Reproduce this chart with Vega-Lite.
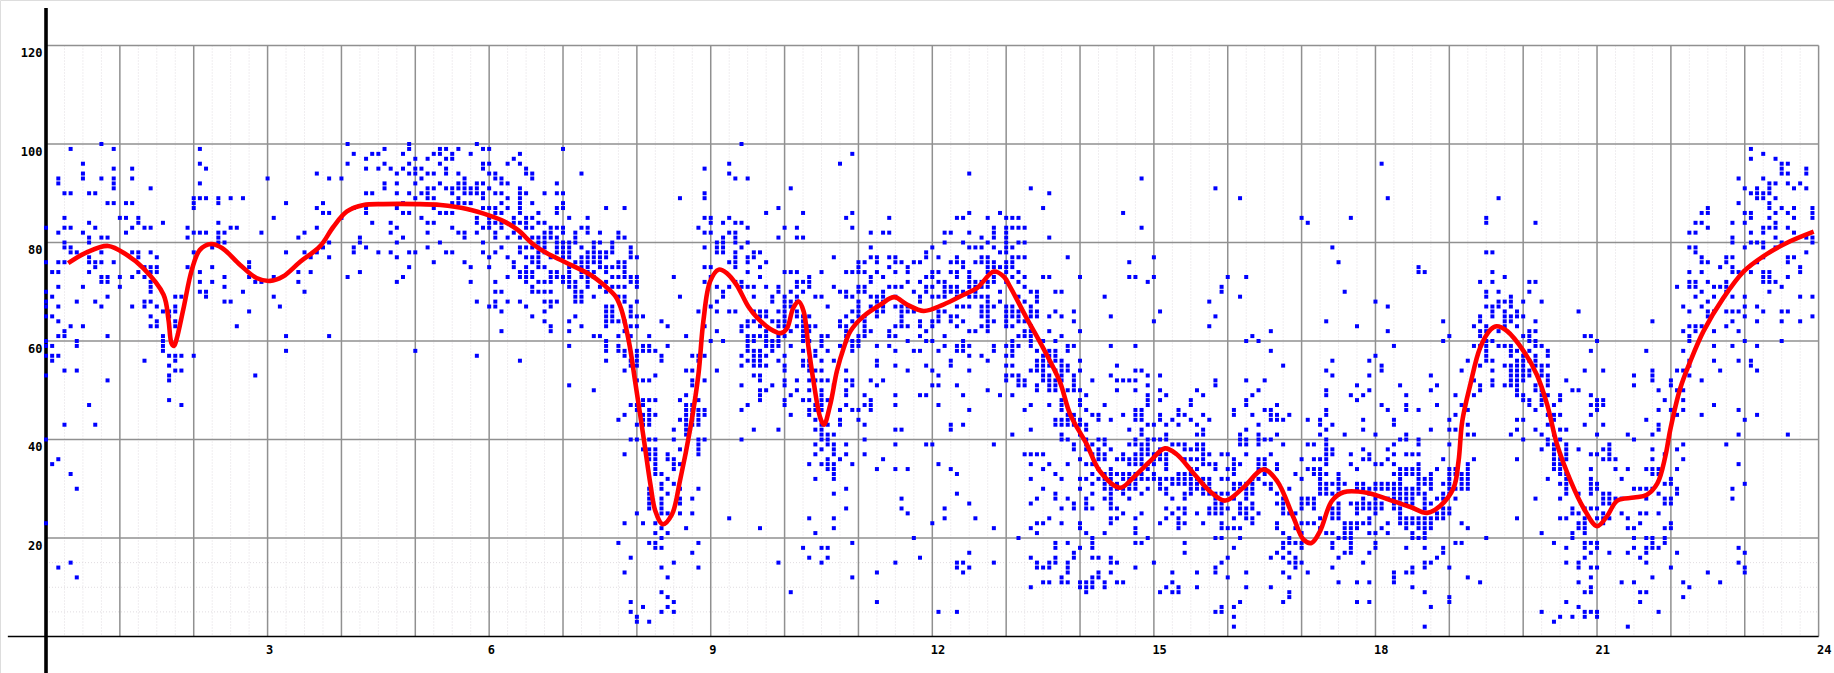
{"$schema":"https://vega.github.io/schema/vega-lite/v6.json","width":1834,"height":673,"padding":0,"autosize":{"type":"none"},"background":"white","datasets":{"one":[{"k":1}],"minorV":[{"t":3},{"t":6},{"t":9},{"t":15},{"t":18},{"t":21},{"t":27},{"t":30},{"t":33},{"t":39},{"t":42},{"t":45},{"t":51},{"t":54},{"t":57},{"t":63},{"t":66},{"t":69},{"t":75},{"t":78},{"t":81},{"t":87},{"t":90},{"t":93},{"t":99},{"t":102},{"t":105},{"t":111},{"t":114},{"t":117},{"t":123},{"t":126},{"t":129},{"t":135},{"t":138},{"t":141},{"t":147},{"t":150},{"t":153},{"t":159},{"t":162},{"t":165},{"t":171},{"t":174},{"t":177},{"t":183},{"t":186},{"t":189},{"t":195},{"t":198},{"t":201},{"t":207},{"t":210},{"t":213},{"t":219},{"t":222},{"t":225},{"t":231},{"t":234},{"t":237},{"t":243},{"t":246},{"t":249},{"t":255},{"t":258},{"t":261},{"t":267},{"t":270},{"t":273},{"t":279},{"t":282},{"t":285}],"majorV":[{"t":12},{"t":24},{"t":36},{"t":48},{"t":60},{"t":72},{"t":84},{"t":96},{"t":108},{"t":120},{"t":132},{"t":144},{"t":156},{"t":168},{"t":180},{"t":192},{"t":204},{"t":216},{"t":228},{"t":240},{"t":252},{"t":264},{"t":276},{"t":288}],"minorH":[{"v":5},{"v":10},{"v":15}],"majorH":[{"v":20},{"v":40},{"v":60},{"v":80},{"v":100},{"v":120}],"curve":[{"t":3.6,"v":75.8},{"t":6.6,"v":78},{"t":10.1,"v":79.3},{"t":13.1,"v":77.5},{"t":15.8,"v":74.8},{"t":19.1,"v":69.4},{"t":19.9,"v":64.3},{"t":20.4,"v":59.5},{"t":20.8,"v":59},{"t":21.2,"v":60.3},{"t":22.3,"v":66.4},{"t":23.7,"v":74.5},{"t":25,"v":78.5},{"t":26.8,"v":79.7},{"t":28.6,"v":78.9},{"t":31.5,"v":75.5},{"t":34.2,"v":72.8},{"t":36.4,"v":72.2},{"t":38.5,"v":73.1},{"t":41.3,"v":76.1},{"t":44.5,"v":79.2},{"t":46.7,"v":83.2},{"t":48.9,"v":86.3},{"t":51.6,"v":87.6},{"t":54.8,"v":87.8},{"t":60.2,"v":87.8},{"t":64.1,"v":87.6},{"t":68.4,"v":86.8},{"t":72.2,"v":85.4},{"t":74.4,"v":84.3},{"t":76.6,"v":82.6},{"t":79.3,"v":79.5},{"t":81.4,"v":77.8},{"t":84.2,"v":76.1},{"t":88.5,"v":73.4},{"t":90.7,"v":71.3},{"t":92.5,"v":69.1},{"t":93.4,"v":66.7},{"t":94.7,"v":59.9},{"t":95.8,"v":51.1},{"t":97.1,"v":40.3},{"t":98.2,"v":30.9},{"t":99,"v":25.5},{"t":100.2,"v":22.8},{"t":101.7,"v":24.8},{"t":103,"v":31.6},{"t":104.7,"v":42.4},{"t":106,"v":53.2},{"t":106.8,"v":64},{"t":107.9,"v":72.1},{"t":109.3,"v":74.5},{"t":110.6,"v":73.8},{"t":112.2,"v":71.4},{"t":114.1,"v":67},{"t":115.5,"v":64.8},{"t":117.6,"v":62.5},{"t":119.4,"v":61.6},{"t":120.4,"v":62.6},{"t":121.4,"v":66.7},{"t":122.3,"v":68},{"t":123.1,"v":66},{"t":123.9,"v":58.6},{"t":124.7,"v":51.8},{"t":125.8,"v":44.4},{"t":126.4,"v":43},{"t":127.4,"v":47},{"t":128.5,"v":53.9},{"t":129.6,"v":58.6},{"t":130.7,"v":62},{"t":132.8,"v":65},{"t":135.6,"v":67.4},{"t":137.8,"v":68.9},{"t":139.9,"v":67.4},{"t":142.6,"v":66.1},{"t":145.8,"v":67.4},{"t":149.1,"v":69.4},{"t":151.3,"v":70.8},{"t":154,"v":74.1},{"t":155.6,"v":73.1},{"t":156.6,"v":71.1},{"t":159.3,"v":64.7},{"t":162,"v":58.6},{"t":164.7,"v":51.8},{"t":166.4,"v":45.1},{"t":169.1,"v":39},{"t":171.2,"v":33.6},{"t":174.5,"v":30.2},{"t":176.6,"v":32.2},{"t":179.4,"v":35.6},{"t":181.8,"v":38.2},{"t":183.7,"v":37},{"t":186.4,"v":33.2},{"t":189.1,"v":29.5},{"t":191.6,"v":27.6},{"t":194.5,"v":30.2},{"t":197.8,"v":33.9},{"t":200,"v":31.6},{"t":202.7,"v":24.1},{"t":204.3,"v":19.7},{"t":205.6,"v":19},{"t":207,"v":21.4},{"t":208.9,"v":27.5},{"t":210.8,"v":29.3},{"t":214.6,"v":29.2},{"t":218.4,"v":27.7},{"t":221.7,"v":26.3},{"t":224.4,"v":25.1},{"t":226.5,"v":26.5},{"t":228.7,"v":30.2},{"t":229.5,"v":35.6},{"t":230.1,"v":43.7},{"t":231.4,"v":51.1},{"t":233,"v":58.6},{"t":234.7,"v":62.3},{"t":235.7,"v":63},{"t":237.4,"v":62},{"t":240.1,"v":57.9},{"t":242.2,"v":53.2},{"t":243.9,"v":47.1},{"t":245.5,"v":39},{"t":247.7,"v":31.6},{"t":249.8,"v":26.1},{"t":252,"v":22.4},{"t":253.6,"v":24.4},{"t":255.3,"v":27.6},{"t":258,"v":28.2},{"t":260.1,"v":28.8},{"t":261.8,"v":31.1},{"t":263.1,"v":36.6},{"t":263.9,"v":42},{"t":265.5,"v":50.3},{"t":267.2,"v":56},{"t":269.3,"v":62},{"t":272.5,"v":68.7},{"t":275.8,"v":74.1},{"t":279,"v":77.2},{"t":282.8,"v":79.9},{"t":287.2,"v":82.2}],"points":[
{"t":0,"v":83},{"t":0,"v":76},{"t":0,"v":70},{"t":0,"v":68},{"t":0,"v":67},{"t":0,"v":65},{"t":0,"v":60},{"t":0,"v":59},{"t":0,"v":57},{"t":0,"v":53},{"t":0,"v":40},{"t":0,"v":23},
{"t":1,"v":74},{"t":1,"v":69},{"t":1,"v":65},{"t":1,"v":59},{"t":1,"v":57},{"t":1,"v":56},{"t":1,"v":35},
{"t":2,"v":93},{"t":2,"v":92},{"t":2,"v":82},{"t":2,"v":76},{"t":2,"v":74},{"t":2,"v":71},{"t":2,"v":67},{"t":2,"v":64},{"t":2,"v":61},{"t":2,"v":57},{"t":2,"v":36},{"t":2,"v":14},
{"t":3,"v":90},{"t":3,"v":85},{"t":3,"v":83},{"t":3,"v":80},{"t":3,"v":79},{"t":3,"v":76},{"t":3,"v":62},{"t":3,"v":61},{"t":3,"v":54},{"t":3,"v":43},
{"t":4,"v":99},{"t":4,"v":90},{"t":4,"v":83},{"t":4,"v":79},{"t":4,"v":78},{"t":4,"v":63},{"t":4,"v":33},{"t":4,"v":15},
{"t":5,"v":78},{"t":5,"v":68},{"t":5,"v":60},{"t":5,"v":59},{"t":5,"v":54},{"t":5,"v":30},{"t":5,"v":12},
{"t":6,"v":96},{"t":6,"v":94},{"t":6,"v":93},{"t":6,"v":82},{"t":6,"v":71},{"t":6,"v":63},
{"t":7,"v":90},{"t":7,"v":84},{"t":7,"v":81},{"t":7,"v":80},{"t":7,"v":77},{"t":7,"v":76},{"t":7,"v":74},{"t":7,"v":47},
{"t":8,"v":90},{"t":8,"v":83},{"t":8,"v":76},{"t":8,"v":75},{"t":8,"v":68},{"t":8,"v":43},
{"t":9,"v":100},{"t":9,"v":93},{"t":9,"v":81},{"t":9,"v":78},{"t":9,"v":76},{"t":9,"v":73},{"t":9,"v":72},{"t":9,"v":67},
{"t":10,"v":88},{"t":10,"v":81},{"t":10,"v":73},{"t":10,"v":72},{"t":10,"v":69},{"t":10,"v":61},{"t":10,"v":52},
{"t":11,"v":99},{"t":11,"v":95},{"t":11,"v":93},{"t":11,"v":92},{"t":11,"v":91},{"t":11,"v":88},{"t":11,"v":76},
{"t":12,"v":85},{"t":12,"v":73},{"t":12,"v":71},
{"t":13,"v":88},{"t":13,"v":85},{"t":13,"v":82},
{"t":14,"v":95},{"t":14,"v":93},{"t":14,"v":88},{"t":14,"v":83},{"t":14,"v":78},{"t":14,"v":73},{"t":14,"v":67},
{"t":15,"v":85},{"t":15,"v":84},{"t":15,"v":78},{"t":15,"v":77},{"t":15,"v":74},
{"t":16,"v":83},{"t":16,"v":75},{"t":16,"v":73},{"t":16,"v":68},{"t":16,"v":67},{"t":16,"v":56},
{"t":17,"v":91},{"t":17,"v":83},{"t":17,"v":78},{"t":17,"v":75},{"t":17,"v":74},{"t":17,"v":72},{"t":17,"v":71},{"t":17,"v":70},{"t":17,"v":68},{"t":17,"v":65},{"t":17,"v":63},
{"t":18,"v":77},{"t":18,"v":75},{"t":18,"v":74},{"t":18,"v":67},{"t":18,"v":64},{"t":18,"v":63},
{"t":19,"v":84},{"t":19,"v":66},{"t":19,"v":61},{"t":19,"v":60},{"t":19,"v":59},{"t":19,"v":58},
{"t":20,"v":66},{"t":20,"v":65},{"t":20,"v":57},{"t":20,"v":55},{"t":20,"v":53},{"t":20,"v":52},{"t":20,"v":48},
{"t":21,"v":69},{"t":21,"v":67},{"t":21,"v":66},{"t":21,"v":64},{"t":21,"v":63},{"t":21,"v":57},{"t":21,"v":56},{"t":21,"v":54},
{"t":22,"v":69},{"t":22,"v":57},{"t":22,"v":54},{"t":22,"v":47},
{"t":23,"v":83},{"t":23,"v":81},{"t":23,"v":75},
{"t":24,"v":89},{"t":24,"v":88},{"t":24,"v":87},{"t":24,"v":82},{"t":24,"v":78},{"t":24,"v":57},
{"t":25,"v":99},{"t":25,"v":96},{"t":25,"v":92},{"t":25,"v":89},{"t":25,"v":82},{"t":25,"v":74},{"t":25,"v":72},{"t":25,"v":70},
{"t":26,"v":95},{"t":26,"v":89},{"t":26,"v":82},{"t":26,"v":70},{"t":26,"v":69},
{"t":27,"v":79},{"t":27,"v":75},{"t":27,"v":72},
{"t":28,"v":89},{"t":28,"v":88},{"t":28,"v":84},{"t":28,"v":82},{"t":28,"v":81},{"t":28,"v":80},
{"t":29,"v":82},{"t":29,"v":80},{"t":29,"v":73},{"t":29,"v":71},{"t":29,"v":68},
{"t":30,"v":89},{"t":30,"v":83},{"t":30,"v":68},{"t":31,"v":83},{"t":31,"v":63},{"t":32,"v":89},{"t":32,"v":70},
{"t":33,"v":76},{"t":33,"v":75},{"t":33,"v":73},{"t":33,"v":66},{"t":34,"v":72},{"t":34,"v":53},{"t":35,"v":82},{"t":35,"v":72},{"t":36,"v":93},
{"t":37,"v":85},{"t":37,"v":73},{"t":37,"v":69},{"t":38,"v":67},{"t":39,"v":88},{"t":39,"v":78},{"t":39,"v":61},{"t":39,"v":58},
{"t":41,"v":81},{"t":41,"v":74},{"t":41,"v":72},{"t":42,"v":82},{"t":42,"v":78},{"t":42,"v":70},{"t":43,"v":77},{"t":43,"v":74},
{"t":44,"v":94},{"t":44,"v":87},{"t":44,"v":83},{"t":44,"v":78},{"t":45,"v":88},{"t":45,"v":86},{"t":45,"v":79},
{"t":46,"v":93},{"t":46,"v":86},{"t":46,"v":80},{"t":46,"v":77},{"t":46,"v":61},{"t":48,"v":93},{"t":48,"v":85},
{"t":49,"v":100},{"t":49,"v":96},{"t":49,"v":73},{"t":50,"v":98},{"t":50,"v":87},{"t":50,"v":79},{"t":50,"v":78},
{"t":51,"v":81},{"t":51,"v":80},{"t":51,"v":74},{"t":52,"v":97},{"t":52,"v":95},{"t":52,"v":90},{"t":52,"v":87},{"t":52,"v":86},{"t":52,"v":79},
{"t":53,"v":98},{"t":53,"v":90},{"t":53,"v":84},{"t":54,"v":98},{"t":54,"v":95},{"t":54,"v":78},
{"t":55,"v":99},{"t":55,"v":96},{"t":55,"v":92},{"t":55,"v":91},{"t":56,"v":95},{"t":56,"v":84},{"t":56,"v":82},{"t":56,"v":78},
{"t":57,"v":94},{"t":57,"v":92},{"t":57,"v":90},{"t":57,"v":87},{"t":57,"v":83},{"t":57,"v":80},{"t":57,"v":77},{"t":57,"v":72},
{"t":58,"v":98},{"t":58,"v":95},{"t":58,"v":88},{"t":58,"v":86},{"t":58,"v":81},{"t":58,"v":73},
{"t":59,"v":100},{"t":59,"v":99},{"t":59,"v":96},{"t":59,"v":94},{"t":59,"v":90},{"t":59,"v":86},{"t":59,"v":78},{"t":59,"v":75},
{"t":60,"v":97},{"t":60,"v":95},{"t":60,"v":94},{"t":60,"v":92},{"t":60,"v":89},{"t":60,"v":78},{"t":60,"v":58},
{"t":61,"v":95},{"t":61,"v":93},{"t":61,"v":90},{"t":61,"v":85},
{"t":62,"v":97},{"t":62,"v":94},{"t":62,"v":91},{"t":62,"v":90},{"t":62,"v":89},{"t":62,"v":84},{"t":62,"v":82},{"t":62,"v":79},
{"t":63,"v":98},{"t":63,"v":94},{"t":63,"v":91},{"t":63,"v":89},{"t":63,"v":87},{"t":63,"v":84},{"t":63,"v":76},
{"t":64,"v":99},{"t":64,"v":98},{"t":64,"v":96},{"t":64,"v":92},{"t":64,"v":86},{"t":64,"v":80},
{"t":65,"v":99},{"t":65,"v":97},{"t":65,"v":95},{"t":65,"v":94},{"t":65,"v":91},{"t":65,"v":86},{"t":65,"v":78},
{"t":66,"v":98},{"t":66,"v":97},{"t":66,"v":91},{"t":66,"v":90},{"t":66,"v":88},{"t":66,"v":86},{"t":66,"v":83},{"t":66,"v":78},
{"t":67,"v":99},{"t":67,"v":94},{"t":67,"v":92},{"t":67,"v":91},{"t":67,"v":89},{"t":67,"v":88},{"t":67,"v":82},
{"t":68,"v":93},{"t":68,"v":92},{"t":68,"v":91},{"t":68,"v":90},{"t":68,"v":88},{"t":68,"v":82},{"t":68,"v":81},{"t":68,"v":76},
{"t":69,"v":98},{"t":69,"v":91},{"t":69,"v":90},{"t":69,"v":88},{"t":69,"v":75},{"t":69,"v":72},
{"t":70,"v":100},{"t":70,"v":92},{"t":70,"v":91},{"t":70,"v":90},{"t":70,"v":85},{"t":70,"v":84},{"t":70,"v":82},{"t":70,"v":68},{"t":70,"v":57},
{"t":71,"v":99},{"t":71,"v":96},{"t":71,"v":95},{"t":71,"v":92},{"t":71,"v":90},{"t":71,"v":89},{"t":71,"v":87},{"t":71,"v":83},{"t":71,"v":80},{"t":71,"v":78},
{"t":72,"v":99},{"t":72,"v":96},{"t":72,"v":94},{"t":72,"v":91},{"t":72,"v":87},{"t":72,"v":85},{"t":72,"v":84},{"t":72,"v":83},{"t":72,"v":77},{"t":72,"v":75},{"t":72,"v":67},
{"t":73,"v":94},{"t":73,"v":93},{"t":73,"v":90},{"t":73,"v":87},{"t":73,"v":86},{"t":73,"v":84},{"t":73,"v":82},{"t":73,"v":81},{"t":73,"v":78},{"t":73,"v":72},{"t":73,"v":70},{"t":73,"v":68},{"t":73,"v":67},
{"t":74,"v":93},{"t":74,"v":92},{"t":74,"v":90},{"t":74,"v":88},{"t":74,"v":86},{"t":74,"v":84},{"t":74,"v":83},{"t":74,"v":79},{"t":74,"v":70},{"t":74,"v":66},{"t":74,"v":62},
{"t":75,"v":96},{"t":75,"v":92},{"t":75,"v":89},{"t":75,"v":87},{"t":75,"v":81},{"t":75,"v":77},{"t":75,"v":73},{"t":75,"v":68},
{"t":76,"v":97},{"t":76,"v":85},{"t":76,"v":84},{"t":76,"v":82},{"t":76,"v":76},{"t":76,"v":75},
{"t":77,"v":98},{"t":77,"v":96},{"t":77,"v":91},{"t":77,"v":90},{"t":77,"v":89},{"t":77,"v":88},{"t":77,"v":87},{"t":77,"v":86},{"t":77,"v":84},{"t":77,"v":81},{"t":77,"v":79},{"t":77,"v":78},{"t":77,"v":74},{"t":77,"v":73},{"t":77,"v":68},{"t":77,"v":56},
{"t":78,"v":95},{"t":78,"v":94},{"t":78,"v":90},{"t":78,"v":85},{"t":78,"v":84},{"t":78,"v":83},{"t":78,"v":79},{"t":78,"v":77},{"t":78,"v":75},{"t":78,"v":74},{"t":78,"v":73},{"t":78,"v":72},{"t":78,"v":67},
{"t":79,"v":94},{"t":79,"v":93},{"t":79,"v":88},{"t":79,"v":85},{"t":79,"v":83},{"t":79,"v":81},{"t":79,"v":79},{"t":79,"v":77},{"t":79,"v":76},{"t":79,"v":74},{"t":79,"v":73},{"t":79,"v":71},{"t":79,"v":70},{"t":79,"v":65},
{"t":80,"v":86},{"t":80,"v":84},{"t":80,"v":81},{"t":80,"v":80},{"t":80,"v":79},{"t":80,"v":78},{"t":80,"v":77},{"t":80,"v":76},{"t":80,"v":75},{"t":80,"v":72},{"t":80,"v":70},
{"t":81,"v":90},{"t":81,"v":84},{"t":81,"v":82},{"t":81,"v":81},{"t":81,"v":80},{"t":81,"v":79},{"t":81,"v":78},{"t":81,"v":75},{"t":81,"v":72},{"t":81,"v":70},{"t":81,"v":68},{"t":81,"v":66},{"t":81,"v":64},
{"t":82,"v":83},{"t":82,"v":82},{"t":82,"v":81},{"t":82,"v":77},{"t":82,"v":74},{"t":82,"v":73},{"t":82,"v":72},{"t":82,"v":70},{"t":82,"v":68},{"t":82,"v":67},{"t":82,"v":63},{"t":82,"v":62},
{"t":83,"v":92},{"t":83,"v":90},{"t":83,"v":87},{"t":83,"v":86},{"t":83,"v":83},{"t":83,"v":81},{"t":83,"v":80},{"t":83,"v":79},{"t":83,"v":78},{"t":83,"v":74},{"t":83,"v":73},{"t":83,"v":68},
{"t":84,"v":99},{"t":84,"v":90},{"t":84,"v":88},{"t":84,"v":87},{"t":84,"v":83},{"t":84,"v":82},{"t":84,"v":80},{"t":84,"v":79},{"t":84,"v":78},{"t":84,"v":77},{"t":84,"v":73},{"t":84,"v":72},
{"t":85,"v":85},{"t":85,"v":80},{"t":85,"v":79},{"t":85,"v":78},{"t":85,"v":77},{"t":85,"v":75},{"t":85,"v":74},{"t":85,"v":73},{"t":85,"v":72},{"t":85,"v":71},{"t":85,"v":64},{"t":85,"v":62},{"t":85,"v":59},{"t":85,"v":51},
{"t":86,"v":82},{"t":86,"v":81},{"t":86,"v":80},{"t":86,"v":76},{"t":86,"v":72},{"t":86,"v":71},{"t":86,"v":70},{"t":86,"v":69},{"t":86,"v":68},{"t":86,"v":65},
{"t":87,"v":94},{"t":87,"v":83},{"t":87,"v":79},{"t":87,"v":77},{"t":87,"v":76},{"t":87,"v":75},{"t":87,"v":74},{"t":87,"v":73},{"t":87,"v":70},{"t":87,"v":69},{"t":87,"v":68},{"t":87,"v":63},
{"t":88,"v":85},{"t":88,"v":83},{"t":88,"v":82},{"t":88,"v":78},{"t":88,"v":77},{"t":88,"v":76},{"t":88,"v":75},{"t":88,"v":74},{"t":88,"v":73},{"t":88,"v":72},{"t":88,"v":71},
{"t":89,"v":80},{"t":89,"v":79},{"t":89,"v":78},{"t":89,"v":77},{"t":89,"v":76},{"t":89,"v":74},{"t":89,"v":73},{"t":89,"v":69},{"t":89,"v":61},{"t":89,"v":50},
{"t":90,"v":82},{"t":90,"v":80},{"t":90,"v":78},{"t":90,"v":77},{"t":90,"v":76},{"t":90,"v":75},{"t":90,"v":71},{"t":90,"v":61},
{"t":91,"v":87},{"t":91,"v":78},{"t":91,"v":77},{"t":91,"v":75},{"t":91,"v":74},{"t":91,"v":72},{"t":91,"v":70},{"t":91,"v":67},{"t":91,"v":66},{"t":91,"v":65},{"t":91,"v":64},{"t":91,"v":63},{"t":91,"v":60},{"t":91,"v":59},{"t":91,"v":58},{"t":91,"v":56},
{"t":92,"v":80},{"t":92,"v":79},{"t":92,"v":78},{"t":92,"v":75},{"t":92,"v":73},{"t":92,"v":71},{"t":92,"v":67},{"t":92,"v":66},{"t":92,"v":65},{"t":92,"v":64},
{"t":93,"v":82},{"t":93,"v":81},{"t":93,"v":76},{"t":93,"v":75},{"t":93,"v":73},{"t":93,"v":71},{"t":93,"v":69},{"t":93,"v":64},{"t":93,"v":61},{"t":93,"v":59},{"t":93,"v":58},{"t":93,"v":44},{"t":93,"v":19},
{"t":94,"v":87},{"t":94,"v":81},{"t":94,"v":76},{"t":94,"v":75},{"t":94,"v":74},{"t":94,"v":73},{"t":94,"v":71},{"t":94,"v":69},{"t":94,"v":68},{"t":94,"v":64},{"t":94,"v":62},{"t":94,"v":58},{"t":94,"v":57},{"t":94,"v":54},{"t":94,"v":45},{"t":94,"v":37},{"t":94,"v":23},{"t":94,"v":13},
{"t":95,"v":79},{"t":95,"v":78},{"t":95,"v":77},{"t":95,"v":73},{"t":95,"v":72},{"t":95,"v":67},{"t":95,"v":66},{"t":95,"v":65},{"t":95,"v":63},{"t":95,"v":61},{"t":95,"v":56},{"t":95,"v":55},{"t":95,"v":47},{"t":95,"v":40},{"t":95,"v":16},{"t":95,"v":7},{"t":95,"v":5},
{"t":96,"v":77},{"t":96,"v":73},{"t":96,"v":72},{"t":96,"v":71},{"t":96,"v":68},{"t":96,"v":65},{"t":96,"v":63},{"t":96,"v":58},{"t":96,"v":57},{"t":96,"v":56},{"t":96,"v":55},{"t":96,"v":52},{"t":96,"v":47},{"t":96,"v":46},{"t":96,"v":43},{"t":96,"v":40},{"t":96,"v":25},{"t":96,"v":4},{"t":96,"v":3},
{"t":97,"v":65},{"t":97,"v":59},{"t":97,"v":58},{"t":97,"v":52},{"t":97,"v":48},{"t":97,"v":47},{"t":97,"v":45},{"t":97,"v":44},{"t":97,"v":43},{"t":97,"v":38},{"t":97,"v":23},{"t":97,"v":6},
{"t":98,"v":61},{"t":98,"v":59},{"t":98,"v":58},{"t":98,"v":52},{"t":98,"v":48},{"t":98,"v":46},{"t":98,"v":45},{"t":98,"v":44},{"t":98,"v":43},{"t":98,"v":40},{"t":98,"v":38},{"t":98,"v":37},{"t":98,"v":36},{"t":98,"v":30},{"t":98,"v":29},{"t":98,"v":28},{"t":98,"v":27},{"t":98,"v":26},{"t":98,"v":19},{"t":98,"v":3},
{"t":99,"v":58},{"t":99,"v":53},{"t":99,"v":48},{"t":99,"v":45},{"t":99,"v":40},{"t":99,"v":38},{"t":99,"v":37},{"t":99,"v":36},{"t":99,"v":35},{"t":99,"v":34},{"t":99,"v":33},{"t":99,"v":23},{"t":99,"v":21},{"t":99,"v":19},{"t":99,"v":18},
{"t":100,"v":64},{"t":100,"v":57},{"t":100,"v":56},{"t":100,"v":33},{"t":100,"v":31},{"t":100,"v":30},{"t":100,"v":28},{"t":100,"v":27},{"t":100,"v":26},{"t":100,"v":25},{"t":100,"v":22},{"t":100,"v":20},{"t":100,"v":18},{"t":100,"v":14},{"t":100,"v":9},{"t":100,"v":5},
{"t":101,"v":63},{"t":101,"v":59},{"t":101,"v":37},{"t":101,"v":36},{"t":101,"v":32},{"t":101,"v":29},{"t":101,"v":25},{"t":101,"v":21},{"t":101,"v":12},{"t":101,"v":8},{"t":101,"v":6},
{"t":102,"v":73},{"t":102,"v":42},{"t":102,"v":40},{"t":102,"v":36},{"t":102,"v":35},{"t":102,"v":34},{"t":102,"v":31},{"t":102,"v":15},{"t":102,"v":7},{"t":102,"v":5},
{"t":103,"v":89},{"t":103,"v":69},{"t":103,"v":48},{"t":103,"v":44},{"t":103,"v":38},{"t":103,"v":35},{"t":103,"v":30},{"t":103,"v":28},{"t":103,"v":27},{"t":103,"v":25},
{"t":104,"v":61},{"t":104,"v":54},{"t":104,"v":49},{"t":104,"v":47},{"t":104,"v":46},{"t":104,"v":45},{"t":104,"v":44},{"t":104,"v":43},{"t":104,"v":42},{"t":104,"v":41},{"t":104,"v":22},
{"t":105,"v":57},{"t":105,"v":54},{"t":105,"v":52},{"t":105,"v":51},{"t":105,"v":47},{"t":105,"v":46},{"t":105,"v":45},{"t":105,"v":44},{"t":105,"v":43},{"t":105,"v":28},{"t":105,"v":25},{"t":105,"v":17},
{"t":106,"v":83},{"t":106,"v":66},{"t":106,"v":57},{"t":106,"v":56},{"t":106,"v":48},{"t":106,"v":46},{"t":106,"v":45},{"t":106,"v":44},{"t":106,"v":43},{"t":106,"v":40},{"t":106,"v":39},{"t":106,"v":38},{"t":106,"v":37},{"t":106,"v":30},{"t":106,"v":19},{"t":106,"v":14},
{"t":107,"v":95},{"t":107,"v":90},{"t":107,"v":89},{"t":107,"v":85},{"t":107,"v":82},{"t":107,"v":79},{"t":107,"v":75},{"t":107,"v":72},{"t":107,"v":63},{"t":107,"v":57},{"t":107,"v":52},{"t":107,"v":46},{"t":107,"v":45},{"t":107,"v":40},
{"t":108,"v":85},{"t":108,"v":84},{"t":108,"v":82},{"t":108,"v":75},{"t":108,"v":73},{"t":108,"v":67},{"t":108,"v":60},
{"t":109,"v":80},{"t":109,"v":79},{"t":109,"v":78},{"t":109,"v":71},{"t":109,"v":68},{"t":109,"v":66},{"t":109,"v":62},{"t":109,"v":54},
{"t":110,"v":84},{"t":110,"v":81},{"t":110,"v":80},{"t":110,"v":79},{"t":110,"v":78},{"t":110,"v":70},{"t":110,"v":69},{"t":110,"v":60},
{"t":111,"v":96},{"t":111,"v":94},{"t":111,"v":85},{"t":111,"v":82},{"t":111,"v":76},{"t":111,"v":71},{"t":111,"v":66},{"t":111,"v":24},
{"t":112,"v":93},{"t":112,"v":84},{"t":112,"v":82},{"t":112,"v":81},{"t":112,"v":80},{"t":112,"v":78},{"t":112,"v":77},{"t":112,"v":76},{"t":112,"v":75},{"t":112,"v":72},{"t":112,"v":66},
{"t":113,"v":100},{"t":113,"v":84},{"t":113,"v":79},{"t":113,"v":72},{"t":113,"v":71},{"t":113,"v":63},{"t":113,"v":62},{"t":113,"v":57},{"t":113,"v":55},{"t":113,"v":51},{"t":113,"v":46},{"t":113,"v":40},
{"t":114,"v":93},{"t":114,"v":83},{"t":114,"v":80},{"t":114,"v":77},{"t":114,"v":76},{"t":114,"v":74},{"t":114,"v":71},{"t":114,"v":64},{"t":114,"v":63},{"t":114,"v":61},{"t":114,"v":60},{"t":114,"v":59},{"t":114,"v":58},{"t":114,"v":56},{"t":114,"v":47},
{"t":115,"v":78},{"t":115,"v":77},{"t":115,"v":71},{"t":115,"v":69},{"t":115,"v":66},{"t":115,"v":64},{"t":115,"v":61},{"t":115,"v":60},{"t":115,"v":58},{"t":115,"v":57},{"t":115,"v":56},{"t":115,"v":55},{"t":115,"v":53},{"t":115,"v":42},
{"t":116,"v":78},{"t":116,"v":75},{"t":116,"v":73},{"t":116,"v":66},{"t":116,"v":65},{"t":116,"v":63},{"t":116,"v":61},{"t":116,"v":58},{"t":116,"v":57},{"t":116,"v":56},{"t":116,"v":55},{"t":116,"v":53},{"t":116,"v":52},{"t":116,"v":50},{"t":116,"v":49},{"t":116,"v":48},{"t":116,"v":22},
{"t":117,"v":86},{"t":117,"v":76},{"t":117,"v":71},{"t":117,"v":66},{"t":117,"v":65},{"t":117,"v":62},{"t":117,"v":61},{"t":117,"v":60},{"t":117,"v":59},{"t":117,"v":57},{"t":117,"v":55},{"t":117,"v":50},
{"t":118,"v":69},{"t":118,"v":68},{"t":118,"v":64},{"t":118,"v":60},{"t":118,"v":59},{"t":118,"v":58},{"t":118,"v":51},
{"t":119,"v":87},{"t":119,"v":81},{"t":119,"v":71},{"t":119,"v":70},{"t":119,"v":66},{"t":119,"v":64},{"t":119,"v":63},{"t":119,"v":61},{"t":119,"v":60},{"t":119,"v":59},{"t":119,"v":56},{"t":119,"v":42},{"t":119,"v":15},
{"t":120,"v":83},{"t":120,"v":74},{"t":120,"v":69},{"t":120,"v":68},{"t":120,"v":67},{"t":120,"v":66},{"t":120,"v":65},{"t":120,"v":64},{"t":120,"v":63},{"t":120,"v":61},{"t":120,"v":57},{"t":120,"v":55},{"t":120,"v":54},{"t":120,"v":52},{"t":120,"v":51},{"t":120,"v":48},{"t":120,"v":47},
{"t":121,"v":91},{"t":121,"v":74},{"t":121,"v":70},{"t":121,"v":68},{"t":121,"v":67},{"t":121,"v":62},{"t":121,"v":59},{"t":121,"v":49},{"t":121,"v":45},{"t":121,"v":9},
{"t":122,"v":83},{"t":122,"v":81},{"t":122,"v":74},{"t":122,"v":72},{"t":122,"v":71},{"t":122,"v":69},{"t":122,"v":68},{"t":122,"v":66},{"t":122,"v":65},{"t":122,"v":63},{"t":122,"v":52},{"t":122,"v":50},
{"t":123,"v":86},{"t":123,"v":81},{"t":123,"v":72},{"t":123,"v":70},{"t":123,"v":65},{"t":123,"v":64},{"t":123,"v":63},{"t":123,"v":62},{"t":123,"v":61},{"t":123,"v":60},{"t":123,"v":58},{"t":123,"v":56},{"t":123,"v":55},{"t":123,"v":48},{"t":123,"v":18},
{"t":124,"v":73},{"t":124,"v":72},{"t":124,"v":71},{"t":124,"v":65},{"t":124,"v":63},{"t":124,"v":62},{"t":124,"v":60},{"t":124,"v":56},{"t":124,"v":55},{"t":124,"v":54},{"t":124,"v":52},{"t":124,"v":50},{"t":124,"v":48},{"t":124,"v":46},{"t":124,"v":45},{"t":124,"v":35},{"t":124,"v":24},{"t":124,"v":16},
{"t":125,"v":69},{"t":125,"v":63},{"t":125,"v":58},{"t":125,"v":57},{"t":125,"v":54},{"t":125,"v":52},{"t":125,"v":47},{"t":125,"v":46},{"t":125,"v":44},{"t":125,"v":42},{"t":125,"v":39},{"t":125,"v":37},{"t":125,"v":32},{"t":125,"v":21},
{"t":126,"v":74},{"t":126,"v":69},{"t":126,"v":61},{"t":126,"v":60},{"t":126,"v":59},{"t":126,"v":56},{"t":126,"v":54},{"t":126,"v":52},{"t":126,"v":50},{"t":126,"v":49},{"t":126,"v":48},{"t":126,"v":47},{"t":126,"v":46},{"t":126,"v":43},{"t":126,"v":42},{"t":126,"v":41},{"t":126,"v":40},{"t":126,"v":38},{"t":126,"v":35},{"t":126,"v":18},{"t":126,"v":15},
{"t":127,"v":67},{"t":127,"v":61},{"t":127,"v":58},{"t":127,"v":52},{"t":127,"v":48},{"t":127,"v":43},{"t":127,"v":41},{"t":127,"v":40},{"t":127,"v":39},{"t":127,"v":36},{"t":127,"v":35},{"t":127,"v":34},{"t":127,"v":18},{"t":127,"v":16},
{"t":128,"v":77},{"t":128,"v":71},{"t":128,"v":56},{"t":128,"v":51},{"t":128,"v":41},{"t":128,"v":39},{"t":128,"v":38},{"t":128,"v":37},{"t":128,"v":35},{"t":128,"v":34},{"t":128,"v":33},{"t":128,"v":32},{"t":128,"v":29},{"t":128,"v":24},{"t":128,"v":22},
{"t":129,"v":96},{"t":129,"v":70},{"t":129,"v":64},{"t":129,"v":63},{"t":129,"v":59},{"t":129,"v":46},{"t":129,"v":44},{"t":129,"v":43},{"t":129,"v":36},
{"t":130,"v":85},{"t":130,"v":74},{"t":130,"v":70},{"t":130,"v":69},{"t":130,"v":65},{"t":130,"v":63},{"t":130,"v":62},{"t":130,"v":61},{"t":130,"v":60},{"t":130,"v":54},{"t":130,"v":52},{"t":130,"v":50},{"t":130,"v":49},{"t":130,"v":47},{"t":130,"v":39},{"t":130,"v":37},{"t":130,"v":30},{"t":130,"v":26},
{"t":131,"v":98},{"t":131,"v":86},{"t":131,"v":83},{"t":131,"v":74},{"t":131,"v":69},{"t":131,"v":66},{"t":131,"v":64},{"t":131,"v":60},{"t":131,"v":59},{"t":131,"v":58},{"t":131,"v":52},{"t":131,"v":51},{"t":131,"v":46},{"t":131,"v":35},{"t":131,"v":19},{"t":131,"v":12},
{"t":132,"v":76},{"t":132,"v":75},{"t":132,"v":74},{"t":132,"v":71},{"t":132,"v":70},{"t":132,"v":68},{"t":132,"v":67},{"t":132,"v":66},{"t":132,"v":65},{"t":132,"v":61},{"t":132,"v":60},{"t":132,"v":59},{"t":132,"v":46},{"t":132,"v":44},
{"t":133,"v":76},{"t":133,"v":74},{"t":133,"v":71},{"t":133,"v":70},{"t":133,"v":65},{"t":133,"v":64},{"t":133,"v":63},{"t":133,"v":62},{"t":133,"v":61},{"t":133,"v":49},{"t":133,"v":47},{"t":133,"v":43},{"t":133,"v":40},{"t":133,"v":37},
{"t":134,"v":82},{"t":134,"v":79},{"t":134,"v":77},{"t":134,"v":73},{"t":134,"v":72},{"t":134,"v":69},{"t":134,"v":67},{"t":134,"v":62},{"t":134,"v":52},{"t":134,"v":48},{"t":134,"v":47},{"t":134,"v":46},
{"t":135,"v":77},{"t":135,"v":76},{"t":135,"v":74},{"t":135,"v":69},{"t":135,"v":68},{"t":135,"v":67},{"t":135,"v":66},{"t":135,"v":65},{"t":135,"v":59},{"t":135,"v":56},{"t":135,"v":55},{"t":135,"v":51},{"t":135,"v":34},{"t":135,"v":13},{"t":135,"v":7},
{"t":136,"v":82},{"t":136,"v":73},{"t":136,"v":70},{"t":136,"v":69},{"t":136,"v":68},{"t":136,"v":67},{"t":136,"v":66},{"t":136,"v":52},{"t":136,"v":36},
{"t":137,"v":85},{"t":137,"v":82},{"t":137,"v":77},{"t":137,"v":75},{"t":137,"v":71},{"t":137,"v":62},{"t":137,"v":61},{"t":137,"v":59},
{"t":138,"v":77},{"t":138,"v":76},{"t":138,"v":74},{"t":138,"v":71},{"t":138,"v":69},{"t":138,"v":67},{"t":138,"v":63},{"t":138,"v":61},{"t":138,"v":58},{"t":138,"v":55},{"t":138,"v":49},{"t":138,"v":47},{"t":138,"v":42},{"t":138,"v":39},{"t":138,"v":34},{"t":138,"v":15},
{"t":139,"v":76},{"t":139,"v":71},{"t":139,"v":67},{"t":139,"v":66},{"t":139,"v":65},{"t":139,"v":64},{"t":139,"v":63},{"t":139,"v":42},{"t":139,"v":28},{"t":139,"v":26},
{"t":140,"v":75},{"t":140,"v":74},{"t":140,"v":72},{"t":140,"v":67},{"t":140,"v":66},{"t":140,"v":63},{"t":140,"v":60},{"t":140,"v":54},{"t":140,"v":34},{"t":140,"v":25},
{"t":141,"v":76},{"t":141,"v":70},{"t":141,"v":66},{"t":141,"v":58},{"t":141,"v":20},
{"t":142,"v":76},{"t":142,"v":72},{"t":142,"v":69},{"t":142,"v":68},{"t":142,"v":64},{"t":142,"v":63},{"t":142,"v":61},{"t":142,"v":58},{"t":142,"v":49},{"t":142,"v":16},
{"t":143,"v":78},{"t":143,"v":77},{"t":143,"v":73},{"t":143,"v":71},{"t":143,"v":70},{"t":143,"v":62},{"t":143,"v":60},{"t":143,"v":55},{"t":143,"v":49},{"t":143,"v":39},
{"t":144,"v":79},{"t":144,"v":74},{"t":144,"v":73},{"t":144,"v":71},{"t":144,"v":69},{"t":144,"v":64},{"t":144,"v":63},{"t":144,"v":60},{"t":144,"v":54},{"t":144,"v":51},{"t":144,"v":39},{"t":144,"v":23},
{"t":145,"v":77},{"t":145,"v":74},{"t":145,"v":72},{"t":145,"v":69},{"t":145,"v":66},{"t":145,"v":65},{"t":145,"v":64},{"t":145,"v":58},{"t":145,"v":53},{"t":145,"v":51},{"t":145,"v":47},{"t":145,"v":35},{"t":145,"v":5},
{"t":146,"v":82},{"t":146,"v":80},{"t":146,"v":72},{"t":146,"v":71},{"t":146,"v":70},{"t":146,"v":69},{"t":146,"v":66},{"t":146,"v":61},{"t":146,"v":59},{"t":146,"v":26},{"t":146,"v":24},
{"t":147,"v":82},{"t":147,"v":76},{"t":147,"v":74},{"t":147,"v":71},{"t":147,"v":70},{"t":147,"v":65},{"t":147,"v":64},{"t":147,"v":56},{"t":147,"v":55},{"t":147,"v":43},{"t":147,"v":42},{"t":147,"v":34},
{"t":148,"v":85},{"t":148,"v":77},{"t":148,"v":76},{"t":148,"v":74},{"t":148,"v":73},{"t":148,"v":71},{"t":148,"v":70},{"t":148,"v":69},{"t":148,"v":67},{"t":148,"v":65},{"t":148,"v":63},{"t":148,"v":59},{"t":148,"v":58},{"t":148,"v":51},{"t":148,"v":33},{"t":148,"v":29},{"t":148,"v":15},{"t":148,"v":14},{"t":148,"v":5},
{"t":149,"v":85},{"t":149,"v":80},{"t":149,"v":76},{"t":149,"v":75},{"t":149,"v":70},{"t":149,"v":67},{"t":149,"v":64},{"t":149,"v":60},{"t":149,"v":59},{"t":149,"v":58},{"t":149,"v":49},{"t":149,"v":43},{"t":149,"v":15},{"t":149,"v":13},
{"t":150,"v":94},{"t":150,"v":86},{"t":150,"v":82},{"t":150,"v":79},{"t":150,"v":74},{"t":150,"v":73},{"t":150,"v":72},{"t":150,"v":71},{"t":150,"v":69},{"t":150,"v":67},{"t":150,"v":62},{"t":150,"v":59},{"t":150,"v":57},{"t":150,"v":54},{"t":150,"v":46},{"t":150,"v":27},{"t":150,"v":17},{"t":150,"v":14},
{"t":151,"v":79},{"t":151,"v":76},{"t":151,"v":72},{"t":151,"v":71},{"t":151,"v":70},{"t":151,"v":69},{"t":151,"v":62},{"t":151,"v":24},
{"t":152,"v":81},{"t":152,"v":79},{"t":152,"v":77},{"t":152,"v":76},{"t":152,"v":72},{"t":152,"v":71},{"t":152,"v":69},{"t":152,"v":67},{"t":152,"v":66},{"t":152,"v":65},{"t":152,"v":63},{"t":152,"v":57},
{"t":153,"v":85},{"t":153,"v":80},{"t":153,"v":77},{"t":153,"v":76},{"t":153,"v":75},{"t":153,"v":74},{"t":153,"v":72},{"t":153,"v":71},{"t":153,"v":69},{"t":153,"v":68},{"t":153,"v":67},{"t":153,"v":66},{"t":153,"v":65},{"t":153,"v":64},{"t":153,"v":63},{"t":153,"v":62},{"t":153,"v":56},{"t":153,"v":50},
{"t":154,"v":83},{"t":154,"v":82},{"t":154,"v":81},{"t":154,"v":79},{"t":154,"v":76},{"t":154,"v":75},{"t":154,"v":74},{"t":154,"v":73},{"t":154,"v":72},{"t":154,"v":67},{"t":154,"v":64},{"t":154,"v":59},{"t":154,"v":58},{"t":154,"v":39},{"t":154,"v":22},{"t":154,"v":15},
{"t":155,"v":86},{"t":155,"v":78},{"t":155,"v":75},{"t":155,"v":70},{"t":155,"v":68},{"t":155,"v":49},
{"t":156,"v":85},{"t":156,"v":83},{"t":156,"v":82},{"t":156,"v":81},{"t":156,"v":80},{"t":156,"v":79},{"t":156,"v":78},{"t":156,"v":76},{"t":156,"v":75},{"t":156,"v":74},{"t":156,"v":72},{"t":156,"v":67},{"t":156,"v":66},{"t":156,"v":65},{"t":156,"v":64},{"t":156,"v":63},{"t":156,"v":59},{"t":156,"v":57},{"t":156,"v":55},{"t":156,"v":53},{"t":156,"v":52},
{"t":157,"v":85},{"t":157,"v":83},{"t":157,"v":79},{"t":157,"v":77},{"t":157,"v":76},{"t":157,"v":75},{"t":157,"v":73},{"t":157,"v":67},{"t":157,"v":66},{"t":157,"v":65},{"t":157,"v":63},{"t":157,"v":60},{"t":157,"v":59},{"t":157,"v":58},{"t":157,"v":57},{"t":157,"v":55},{"t":157,"v":53},{"t":157,"v":49},{"t":157,"v":41},
{"t":158,"v":85},{"t":158,"v":83},{"t":158,"v":80},{"t":158,"v":77},{"t":158,"v":74},{"t":158,"v":72},{"t":158,"v":69},{"t":158,"v":66},{"t":158,"v":65},{"t":158,"v":64},{"t":158,"v":61},{"t":158,"v":59},{"t":158,"v":53},{"t":158,"v":52},{"t":158,"v":51},{"t":158,"v":20},
{"t":159,"v":83},{"t":159,"v":80},{"t":159,"v":77},{"t":159,"v":73},{"t":159,"v":71},{"t":159,"v":68},{"t":159,"v":64},{"t":159,"v":62},{"t":159,"v":61},{"t":159,"v":52},{"t":159,"v":51},{"t":159,"v":46},{"t":159,"v":37},
{"t":160,"v":91},{"t":160,"v":70},{"t":160,"v":67},{"t":160,"v":66},{"t":160,"v":65},{"t":160,"v":63},{"t":160,"v":62},{"t":160,"v":61},{"t":160,"v":60},{"t":160,"v":59},{"t":160,"v":54},{"t":160,"v":47},{"t":160,"v":42},{"t":160,"v":37},{"t":160,"v":35},{"t":160,"v":32},{"t":160,"v":27},{"t":160,"v":22},{"t":160,"v":16},{"t":160,"v":10},
{"t":161,"v":70},{"t":161,"v":69},{"t":161,"v":68},{"t":161,"v":66},{"t":161,"v":65},{"t":161,"v":58},{"t":161,"v":56},{"t":161,"v":55},{"t":161,"v":54},{"t":161,"v":51},{"t":161,"v":50},{"t":161,"v":37},{"t":161,"v":28},{"t":161,"v":23},{"t":161,"v":21},{"t":161,"v":15},{"t":161,"v":14},
{"t":162,"v":87},{"t":162,"v":73},{"t":162,"v":60},{"t":162,"v":57},{"t":162,"v":56},{"t":162,"v":55},{"t":162,"v":54},{"t":162,"v":53},{"t":162,"v":52},{"t":162,"v":37},{"t":162,"v":34},{"t":162,"v":30},{"t":162,"v":23},{"t":162,"v":14},{"t":162,"v":11},
{"t":163,"v":90},{"t":163,"v":81},{"t":163,"v":73},{"t":163,"v":65},{"t":163,"v":62},{"t":163,"v":58},{"t":163,"v":57},{"t":163,"v":56},{"t":163,"v":55},{"t":163,"v":53},{"t":163,"v":52},{"t":163,"v":51},{"t":163,"v":50},{"t":163,"v":47},{"t":163,"v":35},{"t":163,"v":24},{"t":163,"v":15},{"t":163,"v":14},{"t":163,"v":11},
{"t":164,"v":70},{"t":164,"v":66},{"t":164,"v":60},{"t":164,"v":58},{"t":164,"v":57},{"t":164,"v":56},{"t":164,"v":54},{"t":164,"v":52},{"t":164,"v":51},{"t":164,"v":50},{"t":164,"v":44},{"t":164,"v":43},{"t":164,"v":33},{"t":164,"v":29},{"t":164,"v":28},{"t":164,"v":19},{"t":164,"v":18},{"t":164,"v":16},{"t":164,"v":15},
{"t":165,"v":70},{"t":165,"v":65},{"t":165,"v":61},{"t":165,"v":56},{"t":165,"v":55},{"t":165,"v":54},{"t":165,"v":53},{"t":165,"v":52},{"t":165,"v":48},{"t":165,"v":47},{"t":165,"v":46},{"t":165,"v":44},{"t":165,"v":43},{"t":165,"v":41},{"t":165,"v":40},{"t":165,"v":32},{"t":165,"v":26},{"t":165,"v":23},{"t":165,"v":12},{"t":165,"v":11},
{"t":166,"v":77},{"t":166,"v":59},{"t":166,"v":58},{"t":166,"v":55},{"t":166,"v":54},{"t":166,"v":50},{"t":166,"v":45},{"t":166,"v":44},{"t":166,"v":43},{"t":166,"v":40},{"t":166,"v":35},{"t":166,"v":28},{"t":166,"v":19},{"t":166,"v":15},{"t":166,"v":14},{"t":166,"v":13},{"t":166,"v":11},
{"t":167,"v":66},{"t":167,"v":64},{"t":167,"v":59},{"t":167,"v":53},{"t":167,"v":52},{"t":167,"v":51},{"t":167,"v":50},{"t":167,"v":45},{"t":167,"v":44},{"t":167,"v":43},{"t":167,"v":39},{"t":167,"v":38},{"t":167,"v":27},{"t":167,"v":26},{"t":167,"v":17},{"t":167,"v":16},
{"t":168,"v":73},{"t":168,"v":62},{"t":168,"v":56},{"t":168,"v":54},{"t":168,"v":50},{"t":168,"v":48},{"t":168,"v":47},{"t":168,"v":44},{"t":168,"v":43},{"t":168,"v":41},{"t":168,"v":36},{"t":168,"v":32},{"t":168,"v":30},{"t":168,"v":23},{"t":168,"v":22},{"t":168,"v":18},{"t":168,"v":11},{"t":168,"v":10},
{"t":169,"v":49},{"t":169,"v":46},{"t":169,"v":43},{"t":169,"v":42},{"t":169,"v":40},{"t":169,"v":39},{"t":169,"v":38},{"t":169,"v":35},{"t":169,"v":32},{"t":169,"v":28},{"t":169,"v":27},{"t":169,"v":26},{"t":169,"v":21},{"t":169,"v":11},{"t":169,"v":10},{"t":169,"v":9},
{"t":170,"v":52},{"t":170,"v":45},{"t":170,"v":39},{"t":170,"v":37},{"t":170,"v":35},{"t":170,"v":33},{"t":170,"v":31},{"t":170,"v":29},{"t":170,"v":26},{"t":170,"v":20},{"t":170,"v":19},{"t":170,"v":18},{"t":170,"v":16},{"t":170,"v":12},{"t":170,"v":11},{"t":170,"v":10},
{"t":171,"v":45},{"t":171,"v":44},{"t":171,"v":40},{"t":171,"v":38},{"t":171,"v":37},{"t":171,"v":36},{"t":171,"v":34},{"t":171,"v":32},{"t":171,"v":16},{"t":171,"v":13},{"t":171,"v":12},
{"t":172,"v":69},{"t":172,"v":47},{"t":172,"v":40},{"t":172,"v":39},{"t":172,"v":37},{"t":172,"v":36},{"t":172,"v":33},{"t":172,"v":32},{"t":172,"v":31},{"t":172,"v":30},{"t":172,"v":28},{"t":172,"v":21},{"t":172,"v":11},{"t":172,"v":10},
{"t":173,"v":65},{"t":173,"v":59},{"t":173,"v":53},{"t":173,"v":44},{"t":173,"v":38},{"t":173,"v":34},{"t":173,"v":33},{"t":173,"v":32},{"t":173,"v":31},{"t":173,"v":30},{"t":173,"v":29},{"t":173,"v":28},{"t":173,"v":27},{"t":173,"v":26},{"t":173,"v":24},{"t":173,"v":23},{"t":173,"v":16},{"t":173,"v":15},{"t":173,"v":13},
{"t":174,"v":55},{"t":174,"v":52},{"t":174,"v":50},{"t":174,"v":36},{"t":174,"v":33},{"t":174,"v":31},{"t":174,"v":30},{"t":174,"v":26},{"t":174,"v":24},{"t":174,"v":15},{"t":174,"v":11},
{"t":175,"v":86},{"t":175,"v":52},{"t":175,"v":45},{"t":175,"v":37},{"t":175,"v":36},{"t":175,"v":33},{"t":175,"v":32},{"t":175,"v":30},{"t":175,"v":29},{"t":175,"v":25},{"t":175,"v":11},
{"t":176,"v":76},{"t":176,"v":73},{"t":176,"v":52},{"t":176,"v":42},{"t":176,"v":39},{"t":176,"v":36},{"t":176,"v":35},{"t":176,"v":33},{"t":176,"v":32},{"t":176,"v":31},{"t":176,"v":30},{"t":176,"v":28},
{"t":177,"v":73},{"t":177,"v":59},{"t":177,"v":54},{"t":177,"v":52},{"t":177,"v":50},{"t":177,"v":46},{"t":177,"v":45},{"t":177,"v":44},{"t":177,"v":40},{"t":177,"v":39},{"t":177,"v":37},{"t":177,"v":36},{"t":177,"v":35},{"t":177,"v":33},{"t":177,"v":32},{"t":177,"v":31},{"t":177,"v":30},{"t":177,"v":24},{"t":177,"v":22},{"t":177,"v":21},{"t":177,"v":19},{"t":177,"v":14},
{"t":178,"v":93},{"t":178,"v":83},{"t":178,"v":54},{"t":178,"v":46},{"t":178,"v":45},{"t":178,"v":44},{"t":178,"v":42},{"t":178,"v":41},{"t":178,"v":39},{"t":178,"v":38},{"t":178,"v":37},{"t":178,"v":36},{"t":178,"v":35},{"t":178,"v":33},{"t":178,"v":32},{"t":178,"v":29},{"t":178,"v":25},{"t":178,"v":19},
{"t":179,"v":72},{"t":179,"v":53},{"t":179,"v":51},{"t":179,"v":49},{"t":179,"v":48},{"t":179,"v":47},{"t":179,"v":43},{"t":179,"v":40},{"t":179,"v":39},{"t":179,"v":38},{"t":179,"v":37},{"t":179,"v":35},{"t":179,"v":34},{"t":179,"v":32},{"t":179,"v":30},{"t":179,"v":20},
{"t":180,"v":77},{"t":180,"v":73},{"t":180,"v":64},{"t":180,"v":43},{"t":180,"v":40},{"t":180,"v":37},{"t":180,"v":36},{"t":180,"v":35},{"t":180,"v":33},{"t":180,"v":32},{"t":180,"v":15},
{"t":181,"v":66},{"t":181,"v":53},{"t":181,"v":50},{"t":181,"v":48},{"t":181,"v":45},{"t":181,"v":44},{"t":181,"v":40},{"t":181,"v":38},{"t":181,"v":37},{"t":181,"v":36},{"t":181,"v":32},{"t":181,"v":31},{"t":181,"v":30},{"t":181,"v":23},{"t":181,"v":9},
{"t":182,"v":49},{"t":182,"v":43},{"t":182,"v":41},{"t":182,"v":40},{"t":182,"v":37},{"t":182,"v":36},{"t":182,"v":35},{"t":182,"v":34},{"t":182,"v":32},{"t":182,"v":30},{"t":182,"v":29},{"t":182,"v":26},{"t":182,"v":24},{"t":182,"v":10},
{"t":183,"v":44},{"t":183,"v":39},{"t":183,"v":32},{"t":183,"v":31},{"t":183,"v":28},{"t":183,"v":25},{"t":183,"v":13},{"t":183,"v":11},{"t":183,"v":9},
{"t":184,"v":46},{"t":184,"v":45},{"t":184,"v":43},{"t":184,"v":39},{"t":184,"v":33},{"t":184,"v":32},{"t":184,"v":31},{"t":184,"v":26},{"t":184,"v":24},{"t":184,"v":23},{"t":184,"v":22},{"t":184,"v":10},{"t":184,"v":9},
{"t":185,"v":45},{"t":185,"v":39},{"t":185,"v":38},{"t":185,"v":36},{"t":185,"v":33},{"t":185,"v":32},{"t":185,"v":31},{"t":185,"v":29},{"t":185,"v":28},{"t":185,"v":26},{"t":185,"v":25},{"t":185,"v":23},{"t":185,"v":19},{"t":185,"v":17},
{"t":186,"v":48},{"t":186,"v":47},{"t":186,"v":44},{"t":186,"v":38},{"t":186,"v":36},{"t":186,"v":34},{"t":186,"v":33},{"t":186,"v":32},{"t":186,"v":31},{"t":186,"v":30},{"t":186,"v":29},
{"t":187,"v":50},{"t":187,"v":43},{"t":187,"v":41},{"t":187,"v":39},{"t":187,"v":38},{"t":187,"v":36},{"t":187,"v":34},{"t":187,"v":32},{"t":187,"v":31},{"t":187,"v":30},{"t":187,"v":25},{"t":187,"v":13},{"t":187,"v":10},
{"t":188,"v":49},{"t":188,"v":45},{"t":188,"v":42},{"t":188,"v":41},{"t":188,"v":39},{"t":188,"v":38},{"t":188,"v":37},{"t":188,"v":36},{"t":188,"v":35},{"t":188,"v":32},{"t":188,"v":31},{"t":188,"v":30},{"t":188,"v":29},{"t":188,"v":23},
{"t":189,"v":68},{"t":189,"v":63},{"t":189,"v":44},{"t":189,"v":37},{"t":189,"v":35},{"t":189,"v":32},{"t":189,"v":31},{"t":189,"v":30},{"t":189,"v":29},{"t":189,"v":26},{"t":189,"v":25},
{"t":190,"v":91},{"t":190,"v":65},{"t":190,"v":52},{"t":190,"v":51},{"t":190,"v":35},{"t":190,"v":34},{"t":190,"v":29},{"t":190,"v":28},{"t":190,"v":27},{"t":190,"v":26},{"t":190,"v":25},{"t":190,"v":20},{"t":190,"v":14},{"t":190,"v":13},{"t":190,"v":5},
{"t":191,"v":71},{"t":191,"v":70},{"t":191,"v":37},{"t":191,"v":32},{"t":191,"v":29},{"t":191,"v":27},{"t":191,"v":26},{"t":191,"v":25},{"t":191,"v":23},{"t":191,"v":22},{"t":191,"v":20},{"t":191,"v":15},{"t":191,"v":6},{"t":191,"v":5},
{"t":192,"v":73},{"t":192,"v":37},{"t":192,"v":34},{"t":192,"v":32},{"t":192,"v":29},{"t":192,"v":26},{"t":192,"v":22},{"t":192,"v":16},{"t":192,"v":12},
{"t":193,"v":46},{"t":193,"v":45},{"t":193,"v":36},{"t":193,"v":35},{"t":193,"v":34},{"t":193,"v":33},{"t":193,"v":31},{"t":193,"v":30},{"t":193,"v":28},{"t":193,"v":24},{"t":193,"v":22},{"t":193,"v":18},{"t":193,"v":6},{"t":193,"v":4},{"t":193,"v":2},
{"t":194,"v":89},{"t":194,"v":69},{"t":194,"v":41},{"t":194,"v":40},{"t":194,"v":39},{"t":194,"v":35},{"t":194,"v":31},{"t":194,"v":30},{"t":194,"v":27},{"t":194,"v":26},{"t":194,"v":25},{"t":194,"v":22},{"t":194,"v":20},{"t":194,"v":7},
{"t":195,"v":73},{"t":195,"v":60},{"t":195,"v":52},{"t":195,"v":48},{"t":195,"v":47},{"t":195,"v":42},{"t":195,"v":40},{"t":195,"v":39},{"t":195,"v":37},{"t":195,"v":31},{"t":195,"v":30},{"t":195,"v":29},{"t":195,"v":28},{"t":195,"v":26},{"t":195,"v":25},{"t":195,"v":24},{"t":195,"v":13},{"t":195,"v":10},
{"t":196,"v":61},{"t":196,"v":49},{"t":196,"v":45},{"t":196,"v":32},{"t":196,"v":31},{"t":196,"v":30},{"t":196,"v":29},{"t":196,"v":27},{"t":196,"v":26},{"t":196,"v":24},{"t":196,"v":23},
{"t":197,"v":60},{"t":197,"v":50},{"t":197,"v":43},{"t":197,"v":41},{"t":197,"v":40},{"t":197,"v":39},{"t":197,"v":36},{"t":197,"v":35},{"t":197,"v":34},{"t":197,"v":32},{"t":197,"v":25},
{"t":198,"v":52},{"t":198,"v":46},{"t":198,"v":40},{"t":198,"v":36},{"t":198,"v":35},{"t":198,"v":34},{"t":198,"v":33},{"t":198,"v":31},
{"t":199,"v":62},{"t":199,"v":58},{"t":199,"v":46},{"t":199,"v":45},{"t":199,"v":44},{"t":199,"v":40},{"t":199,"v":37},{"t":199,"v":31},{"t":199,"v":30},{"t":199,"v":16},{"t":199,"v":10},
{"t":200,"v":47},{"t":200,"v":45},{"t":200,"v":44},{"t":200,"v":41},{"t":200,"v":35},{"t":200,"v":34},{"t":200,"v":29},{"t":200,"v":27},{"t":200,"v":23},{"t":200,"v":22},{"t":200,"v":17},
{"t":201,"v":55},{"t":201,"v":44},{"t":201,"v":39},{"t":201,"v":28},{"t":201,"v":27},{"t":201,"v":26},{"t":201,"v":25},{"t":201,"v":21},{"t":201,"v":19},{"t":201,"v":18},{"t":201,"v":16},{"t":201,"v":13},{"t":201,"v":7},
{"t":202,"v":45},{"t":202,"v":30},{"t":202,"v":25},{"t":202,"v":20},{"t":202,"v":19},{"t":202,"v":17},{"t":202,"v":15},{"t":202,"v":12},{"t":202,"v":9},{"t":202,"v":8},
{"t":203,"v":33},{"t":203,"v":25},{"t":203,"v":22},{"t":203,"v":19},{"t":203,"v":16},{"t":203,"v":15},{"t":203,"v":14},
{"t":204,"v":85},{"t":204,"v":36},{"t":204,"v":32},{"t":204,"v":28},{"t":204,"v":27},{"t":204,"v":26},{"t":204,"v":23},{"t":204,"v":21},{"t":204,"v":19},{"t":204,"v":18},{"t":204,"v":15},
{"t":205,"v":84},{"t":205,"v":44},{"t":205,"v":39},{"t":205,"v":34},{"t":205,"v":28},{"t":205,"v":27},{"t":205,"v":23},{"t":205,"v":13},
{"t":206,"v":39},{"t":206,"v":36},{"t":206,"v":34},{"t":206,"v":33},{"t":206,"v":28},{"t":206,"v":27},{"t":206,"v":26},{"t":206,"v":23},
{"t":207,"v":44},{"t":207,"v":43},{"t":207,"v":41},{"t":207,"v":36},{"t":207,"v":34},{"t":207,"v":33},{"t":207,"v":32},{"t":207,"v":31},{"t":207,"v":30},{"t":207,"v":29},{"t":207,"v":24},{"t":207,"v":22},
{"t":208,"v":64},{"t":208,"v":54},{"t":208,"v":50},{"t":208,"v":49},{"t":208,"v":46},{"t":208,"v":45},{"t":208,"v":42},{"t":208,"v":40},{"t":208,"v":39},{"t":208,"v":38},{"t":208,"v":37},{"t":208,"v":36},{"t":208,"v":35},{"t":208,"v":33},{"t":208,"v":31},{"t":208,"v":30},{"t":208,"v":29},{"t":208,"v":21},
{"t":209,"v":79},{"t":209,"v":56},{"t":209,"v":53},{"t":209,"v":43},{"t":209,"v":38},{"t":209,"v":37},{"t":209,"v":31},{"t":209,"v":29},{"t":209,"v":26},{"t":209,"v":25},{"t":209,"v":24},{"t":209,"v":21},{"t":209,"v":19},{"t":209,"v":18},{"t":209,"v":14},
{"t":210,"v":76},{"t":210,"v":33},{"t":210,"v":32},{"t":210,"v":31},{"t":210,"v":30},{"t":210,"v":29},{"t":210,"v":27},{"t":210,"v":26},{"t":210,"v":25},{"t":210,"v":24},{"t":210,"v":20},{"t":210,"v":16},{"t":210,"v":11},
{"t":211,"v":70},{"t":211,"v":41},{"t":211,"v":31},{"t":211,"v":23},{"t":211,"v":22},{"t":211,"v":21},{"t":211,"v":20},{"t":211,"v":17},
{"t":212,"v":85},{"t":212,"v":49},{"t":212,"v":37},{"t":212,"v":35},{"t":212,"v":27},{"t":212,"v":23},{"t":212,"v":22},{"t":212,"v":21},{"t":212,"v":20},{"t":212,"v":19},{"t":212,"v":18},{"t":212,"v":17},
{"t":213,"v":63},{"t":213,"v":51},{"t":213,"v":48},{"t":213,"v":34},{"t":213,"v":31},{"t":213,"v":30},{"t":213,"v":27},{"t":213,"v":26},{"t":213,"v":25},{"t":213,"v":23},{"t":213,"v":22},{"t":213,"v":11},{"t":213,"v":7},
{"t":214,"v":49},{"t":214,"v":44},{"t":214,"v":42},{"t":214,"v":38},{"t":214,"v":36},{"t":214,"v":31},{"t":214,"v":30},{"t":214,"v":28},{"t":214,"v":27},{"t":214,"v":26},{"t":214,"v":23},{"t":214,"v":15},
{"t":215,"v":56},{"t":215,"v":53},{"t":215,"v":50},{"t":215,"v":37},{"t":215,"v":36},{"t":215,"v":30},{"t":215,"v":29},{"t":215,"v":27},{"t":215,"v":26},{"t":215,"v":24},{"t":215,"v":23},{"t":215,"v":21},{"t":215,"v":17},{"t":215,"v":11},{"t":215,"v":7},
{"t":216,"v":68},{"t":216,"v":57},{"t":216,"v":41},{"t":216,"v":35},{"t":216,"v":31},{"t":216,"v":30},{"t":216,"v":28},{"t":216,"v":27},{"t":216,"v":26},{"t":216,"v":25},{"t":216,"v":21},{"t":216,"v":19},{"t":216,"v":18},
{"t":217,"v":96},{"t":217,"v":55},{"t":217,"v":54},{"t":217,"v":47},{"t":217,"v":35},{"t":217,"v":31},{"t":217,"v":30},{"t":217,"v":27},{"t":217,"v":26},{"t":217,"v":22},
{"t":218,"v":89},{"t":218,"v":67},{"t":218,"v":62},{"t":218,"v":46},{"t":218,"v":38},{"t":218,"v":36},{"t":218,"v":31},{"t":218,"v":30},{"t":218,"v":28},{"t":218,"v":23},{"t":218,"v":21},
{"t":219,"v":59},{"t":219,"v":44},{"t":219,"v":43},{"t":219,"v":39},{"t":219,"v":37},{"t":219,"v":35},{"t":219,"v":33},{"t":219,"v":31},{"t":219,"v":30},{"t":219,"v":29},{"t":219,"v":28},{"t":219,"v":27},{"t":219,"v":26},{"t":219,"v":13},{"t":219,"v":12},{"t":219,"v":11},
{"t":220,"v":51},{"t":220,"v":40},{"t":220,"v":34},{"t":220,"v":33},{"t":220,"v":32},{"t":220,"v":31},{"t":220,"v":30},{"t":220,"v":29},{"t":220,"v":28},{"t":220,"v":27},{"t":220,"v":26},{"t":220,"v":25},{"t":220,"v":24},{"t":220,"v":23},
{"t":221,"v":49},{"t":221,"v":47},{"t":221,"v":46},{"t":221,"v":41},{"t":221,"v":40},{"t":221,"v":37},{"t":221,"v":34},{"t":221,"v":33},{"t":221,"v":30},{"t":221,"v":29},{"t":221,"v":28},{"t":221,"v":27},{"t":221,"v":24},{"t":221,"v":23},{"t":221,"v":22},{"t":221,"v":18},{"t":221,"v":13},
{"t":222,"v":37},{"t":222,"v":34},{"t":222,"v":33},{"t":222,"v":30},{"t":222,"v":29},{"t":222,"v":28},{"t":222,"v":27},{"t":222,"v":24},{"t":222,"v":23},{"t":222,"v":21},{"t":222,"v":20},{"t":222,"v":14},{"t":222,"v":13},{"t":222,"v":10},
{"t":223,"v":75},{"t":223,"v":74},{"t":223,"v":46},{"t":223,"v":40},{"t":223,"v":39},{"t":223,"v":37},{"t":223,"v":35},{"t":223,"v":34},{"t":223,"v":33},{"t":223,"v":32},{"t":223,"v":31},{"t":223,"v":30},{"t":223,"v":29},{"t":223,"v":24},{"t":223,"v":23},{"t":223,"v":22},{"t":223,"v":20},
{"t":224,"v":74},{"t":224,"v":32},{"t":224,"v":31},{"t":224,"v":29},{"t":224,"v":28},{"t":224,"v":27},{"t":224,"v":26},{"t":224,"v":24},{"t":224,"v":23},{"t":224,"v":22},{"t":224,"v":21},{"t":224,"v":20},{"t":224,"v":18},{"t":224,"v":15},{"t":224,"v":14},{"t":224,"v":9},{"t":224,"v":2},
{"t":225,"v":53},{"t":225,"v":50},{"t":225,"v":42},{"t":225,"v":33},{"t":225,"v":32},{"t":225,"v":31},{"t":225,"v":30},{"t":225,"v":27},{"t":225,"v":24},{"t":225,"v":23},{"t":225,"v":22},{"t":225,"v":15},{"t":225,"v":6},
{"t":226,"v":51},{"t":226,"v":47},{"t":226,"v":34},{"t":226,"v":28},{"t":226,"v":25},{"t":226,"v":24},{"t":226,"v":16},
{"t":227,"v":64},{"t":227,"v":60},{"t":227,"v":36},{"t":227,"v":31},{"t":227,"v":29},{"t":227,"v":28},{"t":227,"v":26},{"t":227,"v":25},{"t":227,"v":24},{"t":227,"v":18},{"t":227,"v":17},
{"t":228,"v":61},{"t":228,"v":44},{"t":228,"v":42},{"t":228,"v":39},{"t":228,"v":34},{"t":228,"v":33},{"t":228,"v":32},{"t":228,"v":31},{"t":228,"v":30},{"t":228,"v":29},{"t":228,"v":26},{"t":228,"v":25},{"t":228,"v":14},{"t":228,"v":8},{"t":228,"v":7},
{"t":229,"v":49},{"t":229,"v":45},{"t":229,"v":42},{"t":229,"v":34},{"t":229,"v":33},{"t":229,"v":30},{"t":229,"v":28},{"t":229,"v":19},
{"t":230,"v":54},{"t":230,"v":47},{"t":230,"v":33},{"t":230,"v":32},{"t":230,"v":31},{"t":230,"v":30},{"t":230,"v":23},{"t":230,"v":19},
{"t":231,"v":56},{"t":231,"v":46},{"t":231,"v":43},{"t":231,"v":41},{"t":231,"v":35},{"t":231,"v":34},{"t":231,"v":33},{"t":231,"v":32},{"t":231,"v":31},{"t":231,"v":30},{"t":231,"v":22},{"t":231,"v":12},
{"t":232,"v":63},{"t":232,"v":59},{"t":232,"v":52},{"t":232,"v":49},{"t":232,"v":41},{"t":232,"v":36},
{"t":233,"v":72},{"t":233,"v":65},{"t":233,"v":64},{"t":233,"v":62},{"t":233,"v":61},{"t":233,"v":59},{"t":233,"v":55},{"t":233,"v":51},{"t":233,"v":50},{"t":233,"v":11},
{"t":234,"v":85},{"t":234,"v":84},{"t":234,"v":78},{"t":234,"v":70},{"t":234,"v":69},{"t":234,"v":67},{"t":234,"v":63},{"t":234,"v":62},{"t":234,"v":60},{"t":234,"v":59},{"t":234,"v":58},{"t":234,"v":57},{"t":234,"v":56},{"t":234,"v":20},
{"t":235,"v":78},{"t":235,"v":74},{"t":235,"v":72},{"t":235,"v":67},{"t":235,"v":66},{"t":235,"v":65},{"t":235,"v":60},{"t":235,"v":56},{"t":235,"v":54},{"t":235,"v":52},{"t":235,"v":51},
{"t":236,"v":89},{"t":236,"v":70},{"t":236,"v":68},{"t":236,"v":67},{"t":236,"v":62},{"t":236,"v":59},
{"t":237,"v":73},{"t":237,"v":68},{"t":237,"v":66},{"t":237,"v":65},{"t":237,"v":64},{"t":237,"v":63},{"t":237,"v":59},{"t":237,"v":55},{"t":237,"v":51},
{"t":238,"v":69},{"t":238,"v":68},{"t":238,"v":67},{"t":238,"v":65},{"t":238,"v":64},{"t":238,"v":59},{"t":238,"v":58},{"t":238,"v":57},{"t":238,"v":55},{"t":238,"v":54},{"t":238,"v":53},{"t":238,"v":52},{"t":238,"v":51},{"t":238,"v":41},
{"t":239,"v":66},{"t":239,"v":65},{"t":239,"v":63},{"t":239,"v":58},{"t":239,"v":56},{"t":239,"v":55},{"t":239,"v":54},{"t":239,"v":53},{"t":239,"v":52},{"t":239,"v":51},{"t":239,"v":50},{"t":239,"v":49},{"t":239,"v":44},{"t":239,"v":42},{"t":239,"v":36},{"t":239,"v":24},
{"t":240,"v":68},{"t":240,"v":65},{"t":240,"v":61},{"t":240,"v":57},{"t":240,"v":56},{"t":240,"v":55},{"t":240,"v":54},{"t":240,"v":53},{"t":240,"v":52},{"t":240,"v":49},{"t":240,"v":48},{"t":240,"v":44},{"t":240,"v":40},
{"t":241,"v":72},{"t":241,"v":70},{"t":241,"v":62},{"t":241,"v":61},{"t":241,"v":60},{"t":241,"v":58},{"t":241,"v":56},{"t":241,"v":54},{"t":241,"v":53},{"t":241,"v":48},{"t":241,"v":47},
{"t":242,"v":84},{"t":242,"v":72},{"t":242,"v":64},{"t":242,"v":62},{"t":242,"v":60},{"t":242,"v":59},{"t":242,"v":57},{"t":242,"v":56},{"t":242,"v":55},{"t":242,"v":51},{"t":242,"v":50},{"t":242,"v":46},{"t":242,"v":42},{"t":242,"v":28},
{"t":243,"v":68},{"t":243,"v":59},{"t":243,"v":55},{"t":243,"v":54},{"t":243,"v":53},{"t":243,"v":50},{"t":243,"v":49},{"t":243,"v":48},{"t":243,"v":47},{"t":243,"v":41},{"t":243,"v":38},{"t":243,"v":21},{"t":243,"v":5},
{"t":244,"v":58},{"t":244,"v":57},{"t":244,"v":55},{"t":244,"v":53},{"t":244,"v":52},{"t":244,"v":51},{"t":244,"v":49},{"t":244,"v":45},{"t":244,"v":43},{"t":244,"v":40},{"t":244,"v":39},{"t":244,"v":32},
{"t":245,"v":47},{"t":245,"v":45},{"t":245,"v":44},{"t":245,"v":41},{"t":245,"v":39},{"t":245,"v":38},{"t":245,"v":37},{"t":245,"v":36},{"t":245,"v":35},{"t":245,"v":34},{"t":245,"v":19},{"t":245,"v":3},
{"t":246,"v":49},{"t":246,"v":48},{"t":246,"v":45},{"t":246,"v":42},{"t":246,"v":40},{"t":246,"v":37},{"t":246,"v":36},{"t":246,"v":35},{"t":246,"v":34},{"t":246,"v":33},{"t":246,"v":31},{"t":246,"v":28},{"t":246,"v":24},{"t":246,"v":4},
{"t":247,"v":52},{"t":247,"v":42},{"t":247,"v":39},{"t":247,"v":38},{"t":247,"v":37},{"t":247,"v":36},{"t":247,"v":33},{"t":247,"v":32},{"t":247,"v":31},{"t":247,"v":30},{"t":247,"v":29},{"t":247,"v":24},{"t":247,"v":18},{"t":247,"v":15},{"t":247,"v":7},
{"t":248,"v":50},{"t":248,"v":26},{"t":248,"v":25},{"t":248,"v":21},{"t":248,"v":20},{"t":248,"v":4},
{"t":249,"v":66},{"t":249,"v":50},{"t":249,"v":38},{"t":249,"v":29},{"t":249,"v":25},{"t":249,"v":23},{"t":249,"v":22},{"t":249,"v":15},{"t":249,"v":14},{"t":249,"v":11},{"t":249,"v":6},
{"t":250,"v":61},{"t":250,"v":54},{"t":250,"v":43},{"t":250,"v":26},{"t":250,"v":24},{"t":250,"v":23},{"t":250,"v":22},{"t":250,"v":21},{"t":250,"v":19},{"t":250,"v":18},{"t":250,"v":16},{"t":250,"v":9},{"t":250,"v":5},{"t":250,"v":4},
{"t":251,"v":61},{"t":251,"v":58},{"t":251,"v":49},{"t":251,"v":47},{"t":251,"v":45},{"t":251,"v":37},{"t":251,"v":34},{"t":251,"v":32},{"t":251,"v":31},{"t":251,"v":30},{"t":251,"v":29},{"t":251,"v":26},{"t":251,"v":19},{"t":251,"v":17},{"t":251,"v":14},{"t":251,"v":12},{"t":251,"v":10},{"t":251,"v":9},{"t":251,"v":5},
{"t":252,"v":60},{"t":252,"v":48},{"t":252,"v":47},{"t":252,"v":46},{"t":252,"v":41},{"t":252,"v":37},{"t":252,"v":31},{"t":252,"v":30},{"t":252,"v":26},{"t":252,"v":24},{"t":252,"v":19},{"t":252,"v":18},{"t":252,"v":14},{"t":252,"v":5},{"t":252,"v":4},
{"t":253,"v":54},{"t":253,"v":48},{"t":253,"v":47},{"t":253,"v":43},{"t":253,"v":38},{"t":253,"v":36},{"t":253,"v":29},{"t":253,"v":28},{"t":253,"v":27},{"t":253,"v":25},{"t":253,"v":24},{"t":253,"v":23},
{"t":254,"v":39},{"t":254,"v":38},{"t":254,"v":37},{"t":254,"v":36},{"t":254,"v":29},{"t":254,"v":28},{"t":254,"v":27},{"t":254,"v":24},{"t":254,"v":17},
{"t":255,"v":36},{"t":255,"v":34},{"t":255,"v":28},{"t":256,"v":32},{"t":256,"v":28},{"t":256,"v":25},{"t":256,"v":11},
{"t":257,"v":41},{"t":257,"v":34},{"t":257,"v":24},{"t":257,"v":22},{"t":257,"v":17},{"t":257,"v":2},
{"t":258,"v":53},{"t":258,"v":51},{"t":258,"v":40},{"t":258,"v":30},{"t":258,"v":22},{"t":258,"v":20},{"t":258,"v":18},{"t":258,"v":11},
{"t":259,"v":30},{"t":259,"v":25},{"t":259,"v":23},{"t":259,"v":16},{"t":259,"v":9},{"t":259,"v":7},
{"t":260,"v":58},{"t":260,"v":44},{"t":260,"v":34},{"t":260,"v":30},{"t":260,"v":28},{"t":260,"v":25},{"t":260,"v":20},{"t":260,"v":18},{"t":260,"v":17},{"t":260,"v":15},{"t":260,"v":9},
{"t":261,"v":64},{"t":261,"v":54},{"t":261,"v":53},{"t":261,"v":52},{"t":261,"v":41},{"t":261,"v":38},{"t":261,"v":36},{"t":261,"v":34},{"t":261,"v":33},{"t":261,"v":30},{"t":261,"v":20},{"t":261,"v":19},{"t":261,"v":18},{"t":261,"v":12},
{"t":262,"v":50},{"t":262,"v":46},{"t":262,"v":43},{"t":262,"v":42},{"t":262,"v":34},{"t":262,"v":33},{"t":262,"v":29},{"t":262,"v":25},{"t":262,"v":18},{"t":262,"v":5},
{"t":263,"v":48},{"t":263,"v":37},{"t":263,"v":31},{"t":263,"v":28},{"t":263,"v":27},{"t":263,"v":22},{"t":263,"v":20},{"t":263,"v":19},
{"t":264,"v":52},{"t":264,"v":51},{"t":264,"v":46},{"t":264,"v":32},{"t":264,"v":31},{"t":264,"v":28},{"t":264,"v":27},{"t":264,"v":23},{"t":264,"v":22},{"t":264,"v":14},
{"t":265,"v":71},{"t":265,"v":54},{"t":265,"v":50},{"t":265,"v":45},{"t":265,"v":38},{"t":265,"v":34},{"t":265,"v":30},{"t":265,"v":29},{"t":265,"v":17},
{"t":266,"v":67},{"t":266,"v":62},{"t":266,"v":58},{"t":266,"v":54},{"t":266,"v":50},{"t":266,"v":48},{"t":266,"v":46},{"t":266,"v":39},{"t":266,"v":36},{"t":266,"v":11},{"t":266,"v":8},
{"t":267,"v":82},{"t":267,"v":79},{"t":267,"v":74},{"t":267,"v":72},{"t":267,"v":71},{"t":267,"v":66},{"t":267,"v":63},{"t":267,"v":61},{"t":267,"v":60},{"t":267,"v":56},{"t":267,"v":55},{"t":267,"v":53},{"t":267,"v":10},
{"t":268,"v":84},{"t":268,"v":82},{"t":268,"v":79},{"t":268,"v":78},{"t":268,"v":72},{"t":268,"v":71},{"t":268,"v":69},{"t":268,"v":63},{"t":268,"v":62},
{"t":269,"v":86},{"t":269,"v":84},{"t":269,"v":77},{"t":269,"v":76},{"t":269,"v":74},{"t":269,"v":70},{"t":269,"v":67},{"t":269,"v":63},{"t":269,"v":52},{"t":269,"v":45},
{"t":270,"v":87},{"t":270,"v":86},{"t":270,"v":83},{"t":270,"v":76},{"t":270,"v":72},{"t":270,"v":68},{"t":270,"v":66},{"t":270,"v":65},{"t":270,"v":13},
{"t":271,"v":71},{"t":271,"v":69},{"t":271,"v":66},{"t":271,"v":62},{"t":271,"v":59},{"t":271,"v":56},{"t":271,"v":47},
{"t":272,"v":75},{"t":272,"v":71},{"t":272,"v":54},{"t":272,"v":11},
{"t":273,"v":77},{"t":273,"v":76},{"t":273,"v":72},{"t":273,"v":71},{"t":273,"v":70},{"t":273,"v":66},{"t":273,"v":63},{"t":273,"v":39},
{"t":274,"v":84},{"t":274,"v":81},{"t":274,"v":80},{"t":274,"v":77},{"t":274,"v":75},{"t":274,"v":74},{"t":274,"v":69},{"t":274,"v":66},{"t":274,"v":64},{"t":274,"v":59},{"t":274,"v":30},{"t":274,"v":28},
{"t":275,"v":93},{"t":275,"v":88},{"t":275,"v":74},{"t":275,"v":66},{"t":275,"v":62},{"t":275,"v":56},{"t":275,"v":46},{"t":275,"v":41},{"t":275,"v":35},{"t":275,"v":18},{"t":275,"v":15},
{"t":276,"v":91},{"t":276,"v":86},{"t":276,"v":84},{"t":276,"v":79},{"t":276,"v":69},{"t":276,"v":67},{"t":276,"v":65},{"t":276,"v":60},{"t":276,"v":44},{"t":276,"v":31},{"t":276,"v":17},{"t":276,"v":14},{"t":276,"v":13},
{"t":277,"v":99},{"t":277,"v":97},{"t":277,"v":90},{"t":277,"v":86},{"t":277,"v":85},{"t":277,"v":82},{"t":277,"v":80},{"t":277,"v":74},{"t":277,"v":56},{"t":277,"v":55},
{"t":278,"v":91},{"t":278,"v":90},{"t":278,"v":89},{"t":278,"v":80},{"t":278,"v":76},{"t":278,"v":67},{"t":278,"v":64},{"t":278,"v":59},{"t":278,"v":54},{"t":278,"v":45},
{"t":279,"v":98},{"t":279,"v":93},{"t":279,"v":90},{"t":279,"v":89},{"t":279,"v":83},{"t":279,"v":82},{"t":279,"v":80},{"t":279,"v":79},{"t":279,"v":77},{"t":279,"v":74},{"t":279,"v":73},{"t":279,"v":72},{"t":279,"v":66},
{"t":280,"v":92},{"t":280,"v":91},{"t":280,"v":90},{"t":280,"v":88},{"t":280,"v":87},{"t":280,"v":85},{"t":280,"v":83},{"t":280,"v":74},{"t":280,"v":73},{"t":280,"v":72},{"t":280,"v":70},
{"t":281,"v":97},{"t":281,"v":92},{"t":281,"v":89},{"t":281,"v":86},{"t":281,"v":84},{"t":281,"v":83},{"t":281,"v":81},{"t":281,"v":79},{"t":281,"v":72},
{"t":282,"v":96},{"t":282,"v":95},{"t":282,"v":94},{"t":282,"v":87},{"t":282,"v":80},{"t":282,"v":71},{"t":282,"v":66},{"t":282,"v":64},{"t":282,"v":60},
{"t":283,"v":96},{"t":283,"v":94},{"t":283,"v":92},{"t":283,"v":86},{"t":283,"v":83},{"t":283,"v":77},{"t":283,"v":76},{"t":283,"v":73},{"t":283,"v":66},{"t":283,"v":41},
{"t":284,"v":91},{"t":284,"v":87},{"t":284,"v":85},{"t":284,"v":82},{"t":284,"v":77},
{"t":285,"v":92},{"t":285,"v":75},{"t":285,"v":74},{"t":285,"v":69},{"t":285,"v":64},
{"t":286,"v":95},{"t":286,"v":94},{"t":286,"v":91},{"t":286,"v":81},{"t":286,"v":78},
{"t":287,"v":87},{"t":287,"v":86},{"t":287,"v":85},{"t":287,"v":81},{"t":287,"v":80},{"t":287,"v":69},{"t":287,"v":65}
]},"layer":[{"data":{"name":"minorV"},"mark":{"type":"rule","color":"#e0dce0","strokeWidth":1,"strokeDash":[1,2]},"encoding":{"x":{"field":"t","type":"quantitative","scale":{"domain":[-7.475,290.5],"nice":false,"zero":false},"axis":{"orient":"bottom","offset":-36.5,"values":[36,72,108,144,180,216,252,288],"labelExpr":"datum.value/12","domain":false,"ticks":false,"grid":false,"title":null,"labelFont":"DejaVu Sans Mono","labelFontWeight":"bold","labelFontSize":12,"labelColor":"black","labelAlign":"left","labelPadding":8,"labelOffset":-2,"labelFlush":false,"labelOverlap":false}},"y":{"datum":120,"type":"quantitative","scale":{"domain":[-7.41,129.24],"nice":false,"zero":false},"axis":{"orient":"left","offset":-46,"values":[20,40,60,80,100,120],"domain":false,"ticks":false,"grid":false,"title":null,"labelFont":"DejaVu Sans Mono","labelFontWeight":"bold","labelFontSize":12,"labelColor":"black","labelPadding":4,"labelOffset":7,"labelFlush":false,"labelOverlap":false}},"y2":{"datum":0}}},{"data":{"name":"minorH"},"mark":{"type":"rule","color":"#e0dce0","strokeWidth":1,"strokeDash":[1,2]},"encoding":{"y":{"field":"v","type":"quantitative"},"x":{"datum":0,"type":"quantitative"},"x2":{"datum":288}}},{"data":{"name":"majorV"},"mark":{"type":"rule","color":"#909090","strokeWidth":1.5},"encoding":{"x":{"field":"t","type":"quantitative"},"y":{"datum":120,"type":"quantitative"},"y2":{"datum":0}}},{"data":{"name":"majorH"},"mark":{"type":"rule","color":"#909090","strokeWidth":1.5},"encoding":{"y":{"field":"v","type":"quantitative"},"x":{"datum":0,"type":"quantitative"},"x2":{"datum":288}}},{"data":{"name":"one"},"mark":{"type":"rule","color":"black","strokeWidth":3.6},"encoding":{"x":{"datum":0,"type":"quantitative"},"y":{"datum":127.6,"type":"quantitative"},"y2":{"datum":-7.41}}},{"data":{"name":"one"},"mark":{"type":"rule","color":"black","strokeWidth":1.6},"encoding":{"y":{"datum":0,"type":"quantitative"},"x":{"datum":-6.2,"type":"quantitative"},"x2":{"datum":288}}},{"data":{"name":"points"},"mark":{"type":"square","color":"#0000ff","size":16,"opacity":1,"filled":true},"encoding":{"x":{"field":"t","type":"quantitative"},"y":{"field":"v","type":"quantitative"}}},{"data":{"name":"curve"},"mark":{"type":"line","color":"#ff0000","strokeWidth":4.6,"interpolate":"catmull-rom"},"encoding":{"x":{"field":"t","type":"quantitative"},"y":{"field":"v","type":"quantitative"}}}]}
